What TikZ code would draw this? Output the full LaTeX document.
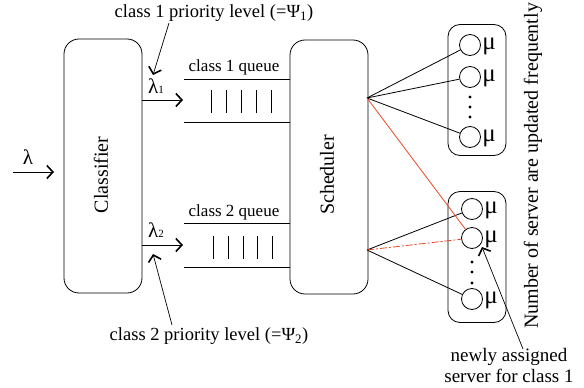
\documentclass[tikz,border=0pt]{standalone}
\usepackage{fontspec}
\setmainfont{Liberation Serif}
\usetikzlibrary{arrows.meta}
\definecolor{redl}{RGB}{235,70,35}
\newcommand{\smsub}[1]{{\fontsize{11}{11}\selectfont #1}}
\begin{document}
\begin{tikzpicture}[x=1pt,y=-1pt,line width=0.8pt,
  box/.style={draw,rounded corners=15pt,minimum width=78pt,minimum height=254pt,inner sep=0pt},
  grp/.style={draw,rounded corners=12pt,minimum width=58pt,minimum height=131pt,inner sep=0pt},
  srv/.style={draw,circle,minimum size=21pt,inner sep=0pt},
  arr/.style={-{Straight Barb[length=6pt,width=13pt,line width=1.6pt]}},
  ptr/.style={-{Straight Barb[length=6pt,width=13pt,line width=1.6pt]},line width=0.7pt},
  lbl/.style={font=\fontsize{18.5}{20}\selectfont,inner sep=1pt},
  qlbl/.style={font=\fontsize{17}{19}\selectfont,inner sep=1pt},
  blbl/.style={font=\fontsize{20}{22}\selectfont,inner sep=1pt,rotate=90},
  glbl/.style={font=\fontsize{21}{23}\selectfont,inner sep=0pt},
  mlbl/.style={font=\fontsize{25}{27}\selectfont,inner sep=0pt}]
\useasboundingbox (0,0) rectangle (584,388);
% boxes
\node[box] (cls) at (103,166) {};
\node[blbl] at (101,175) {Classifier};
\node[box] (sch) at (329,167) {};
\node[blbl] at (327,175) {Scheduler};
% input
\coordinate (lin) at (13,172);
\coordinate (lend) at (54,172);
\draw[arr] (lin) -- (lend);
\node[glbl] at (28,157) {λ};
% class 1
\coordinate (c1s) at (142,100);
\coordinate (c1e) at (183,100);
\draw[arr] (c1s) -- (c1e);
\node[glbl] at (156,86) {λ\smsub{1}};
\coordinate (q1a) at (184,79); \coordinate (q1b) at (290,79);
\coordinate (q1c) at (184,122); \coordinate (q1d) at (290,122);
\draw (q1a) -- (q1b); \draw (q1c) -- (q1d);
\foreach \x in {211,226,241,256,271} \draw (\x,90) -- (\x,113);
\node[qlbl] at (234,67) {class 1 queue};
% class 2
\coordinate (c2s) at (142,245);
\coordinate (c2e) at (183,245);
\draw[arr] (c2s) -- (c2e);
\node[glbl] at (156,230) {λ\smsub{2}};
\coordinate (q2a) at (184,223); \coordinate (q2b) at (290,223);
\coordinate (q2c) at (184,267); \coordinate (q2d) at (290,267);
\draw (q2a) -- (q2b); \draw (q2c) -- (q2d);
\foreach \x in {213,228,243,257,272} \draw (\x,236) -- (\x,259);
\node[qlbl] at (234,212) {class 2 queue};
% priority labels
\node[lbl] (p1) at (214,13) {class 1 priority level (=Ψ\textsubscript{1})};
\coordinate (p1s) at (169,23);
\coordinate (p1e) at (153,75);
\draw[ptr] (p1s) -- (p1e);
\node[lbl] (p2) at (209,336) {class 2 priority level (=Ψ\textsubscript{2})};
\coordinate (p2s) at (172,325);
\coordinate (p2e) at (153,254);
\draw[ptr] (p2s) -- (p2e);
% server groups
\node[grp] (g1) at (477,90) {};
\node[grp] (g2) at (477,257) {};
\node[srv] (s1) at (470,45) {};
\node[srv] (s2) at (470,77) {};
\node[srv] (s3) at (470,137) {};
\node[srv] (s4) at (472,209) {};
\node[srv] (s5) at (472,238) {};
\node[srv] (s6) at (472,299) {};
\foreach \s in {s1,s2,s3,s4,s5,s6} \node[mlbl,anchor=west] at ([xshift=1pt,yshift=-1pt]\s.east) {μ};
\foreach \y in {97,107,117} \fill (470,\y) circle (1.6pt);
\foreach \y in {262,272,283} \fill (472,\y) circle (1.6pt);
% hubs
\coordinate (h1) at (367,98);
\coordinate (h2) at (367,250);
\draw (h1) -- (s1); \draw (h1) -- (s2); \draw (h1) -- (s3);
\draw (h2) -- (s4); \draw (h2) -- (s6);
\draw[redl] (h1) -- (s5);
\draw[redl,dash pattern=on 7pt off 2pt on 2pt off 2pt] (h2) -- (s5);
% right labels
\node[blbl] at (533,166) {Number of server are updated frequently};
\node[align=center,font=\fontsize{19}{21}\selectfont,inner sep=1pt] (nas) at (509,365) {newly assigned\\server for class 1};
\coordinate (ns) at (523,349);
\coordinate (ne) at (482,247);
\draw[ptr] (ns) -- (ne);
\end{tikzpicture}
\end{document}
